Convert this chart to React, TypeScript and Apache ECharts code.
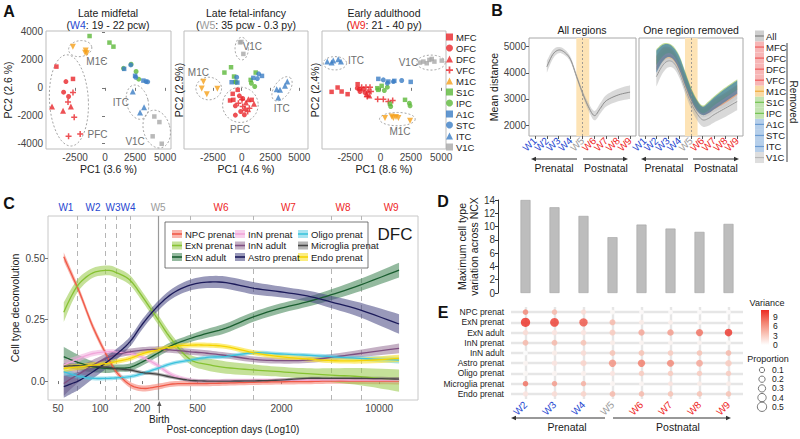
import React, { useEffect, useRef } from 'react';
import * as echarts from 'echarts';

const FONT = "'Liberation Sans', Arial, Helvetica, sans-serif";
const INK = '#1a1a1a';
const TICK_TXT = '#444444';
const W_BLUE = '#2747d0';
const W_GRAY = '#9b9b9b';
const W_RED = '#ee1f1f';

// ---------------- Panel A : PCA scatter ----------------
const REGIONS = ['MFC', 'OFC', 'DFC', 'VFC', 'M1C', 'S1C', 'IPC', 'A1C', 'STC', 'ITC', 'V1C'];
const REGION_COLORS = ['#e8262a', '#e8262a', '#e8262a', '#e8262a', '#f5a01a', '#5cb83a', '#5cb83a', '#3b7dc4', '#3b7dc4', '#3b7dc4', '#a8a8a8'];
const PLUS = 'path://M3,0H5V3H8V5H5V8H3V5H0V3H3Z';
const REGION_SYMBOLS = ['rect', 'circle', 'triangle', PLUS, 'triangle', 'rect', 'circle', 'rect', 'circle', 'triangle', 'rect'];
const REGION_ROTATE = [0, 0, 0, 0, 180, 0, 0, 0, 0, 0, 0];
const REGION_SIZE = [4.5, 5, 6, 6, 6, 4.5, 5, 4.5, 5, 6, 4.5];

const A_W4 = {
  MFC: [[-4045, 1520], [-2665, 640]],
  OFC: [[-3254, 450], [-3447, -310], [-3033, -620]],
  DFC: [[-3493, -1640], [-4413, -1330], [-2840, -1330]],
  VFC: [[-2665, -330], [-3079, -1020], [-2564, -2100], [-2067, -3310], [-3033, -3470]],
  M1C: [[-2674, 2950], [-1653, 2520], [-1515, 2480], [-1607, 2670]],
  S1C: [[-1285, 3710], [371, 3240], [702, 2950]],
  IPC: [[1539, 1400], [2588, 1170], [2174, 1690], [2809, 620]],
  A1C: [[1595, 1360], [2505, 860], [3195, 520]],
  STC: [[2147, 1640], [2561, 760], [3416, 450], [3554, 430]],
  ITC: [[2312, -260], [3251, -1380], [2919, -1760]],
  V1C: [[4106, -2050], [4529, -2450], [3968, -3470], [4723, -4000]],
};
const A_W5 = {
  MFC: [[-347, -143], [-780, -428], [-1012, -904], [-723, -857], [867, -857]],
  OFC: [[-202, -571], [87, -762], [-549, -1285], [-87, -1690], [231, -1928], [-549, -1952]],
  DFC: [[376, -1047], [578, -809], [289, -1452], [1069, -1142]],
  VFC: [[665, -1452], [520, -1690], [29, -857], [-289, -1095], [87, -1333]],
  M1C: [[-3320, 430], [-3470, -50], [-3030, -450], [-2110, -70]],
  S1C: [[-925, 1475], [-1500, 1095], [780, 570], [1215, 1095], [-665, 810]],
  IPC: [[-580, 430], [-490, 405], [840, 330], [1130, 95]],
  A1C: [[-870, 405], [-375, 380], [1010, 715], [1760, 855]],
  STC: [[-435, 760], [1360, 665], [1475, 1000]],
  ITC: [[3038, -93], [3324, -143], [3758, 143], [3960, 450], [3180, -693]],
  V1C: [[-145, 3260], [-30, 3285], [145, 2430]],
};
const A_W9 = {
  MFC: [[-4029, -286], [-3534, 24], [-3204, -262], [-2709, -452], [-1884, 262]],
  OFC: [[-1746, -95], [-1691, -262], [-1416, -95], [-1279, -333], [-1911, -24]],
  DFC: [[-1141, -452], [-1004, -190], [-921, -547]],
  VFC: [[-784, -262], [-234, -809], [234, -809], [646, -976], [1004, -904], [-1554, 48], [-1196, 48], [-1086, -619], [-866, 48]],
  M1C: [[371, -2166], [921, -2047], [1059, -2166], [1279, -2094], [1471, -2166], [2434, -2356]],
  S1C: [[-261, -24], [-179, -143], [96, 143], [784, -1142], [2021, -857]],
  IPC: [[316, -190], [564, 48], [839, -1333], [2379, -1095], [2434, -1285]],
  A1C: [[-179, 643], [646, 452], [1141, 500], [2489, 428]],
  STC: [[234, 571], [1059, 452], [1746, 524], [564, 333]],
  ITC: [[-4386, 1880], [-4029, 1809], [-3891, 1952], [-3479, 2047], [-3259, 1880]],
  V1C: [[3259, 1809], [3534, 1880], [4029, 2000], [4221, 2070], [4441, 1880], [5046, 1952], [3809, 1761]],
};
const A_RINGS_W4 = [
  { label: 'PFC', c: [-3005, -900], r: [1619, 3270], rot: -3, at: [-625, -3310] },
  { label: 'M1C', c: [-2065, 2808], r: [971, 571], rot: -8, at: [-678, 1880] },
  { label: 'ITC', c: [2699, -1023], r: [897, 1250], rot: -14, at: [1316, -1047] },
  { label: 'V1C', c: [4304, -2950], r: [1104, 1378], rot: -15, at: [2505, -3830] },
];
const A_RINGS_W5 = [
  { label: 'V1C', c: [0, 2808], r: [578, 809], rot: 0, at: [925, 2950] },
  { label: 'M1C', c: [-2860, -48], r: [1112, 809], rot: 0, at: [-3760, 1095] },
  { label: 'PFC', c: [-116, -1214], r: [1546, 1262], rot: 0, at: [-145, -2950] },
  { label: 'ITC', c: [3500, -70], r: [1200, 550], rot: -55, at: [3470, -1450] },
];
const A_RINGS_W9 = [
  { label: 'ITC', c: [-3754, 1761], r: [962, 476], rot: 0, at: [-2021, 1928] },
  { label: 'V1C', c: [4166, 1809], r: [1169, 536], rot: 0, at: [2296, 1809] },
  { label: 'M1C', c: [1389, -2237], r: [1471, 476], rot: 0, at: [1609, -3118] },
];
const A_X_RANGES = [[-4912, 5494], [-5008, 5755], [-4820, 5397]];
const A_Y_RANGE = [-4377, 4070];
const A_X_TICKS = [-2500, 0, 2500, 5000];
const A_Y_TICKS = [-4000, -2000, 0, 2000, 4000];
const A_X_NAMES = ['PC1 (3.6 %)', 'PC1 (4.6 %)', 'PC1 (8.6 %)'];
const A_Y_NAMES = ['PC2 (2.6 %)', 'PC2 (2.9%)', 'PC2 (2.4%)'];

// ---------------- Panel B : mean distance ----------------
const B_WINDOWS = ['W1', 'W2', 'W3', 'W4', 'W5', 'W6', 'W7', 'W8', 'W9'];
const B_X = [2, 2.5, 3, 3.5, 4, 4.5, 5, 5.5, 6, 6.5, 7, 8, 9];
const B_ALL_MEAN = [4230, 4700, 4870, 4780, 4500, 3860, 3230, 2700, 2360, 2640, 2930, 3150, 3260];
const B_ALL_HW = [230, 170, 120, 110, 100, 100, 110, 150, 180, 200, 220, 240, 260];
const B_ALL2_MEAN = [3850, 4250, 4450, 4380, 4000, 3400, 2850, 2450, 2200, 2250, 2400, 2650, 2900];
const B_ALL2_HW = [380, 300, 250, 220, 200, 200, 220, 250, 260, 280, 300, 330, 330];
const B_V1C_LO = [3900, 4250, 4450, 4350, 3950, 3400, 2850, 2500, 2300, 2350, 2500, 2700, 3000];
const B_V1C_HI = [4500, 4800, 4900, 4750, 4350, 3800, 3250, 2850, 2600, 2700, 2850, 3100, 3400];
const B_RED_LO = [4100, 4450, 4600, 4500, 4100, 3500, 2950, 2600, 2400, 2450, 2600, 2850, 3150];
const B_RED_HI = [4650, 4950, 5000, 4850, 4450, 3900, 3350, 2950, 2700, 2800, 3000, 3250, 3550];
const B_M1C_LO = [4050, 4400, 4550, 4450, 4050, 3450, 2900, 2550, 2380, 2450, 2600, 2850, 3150];
const B_M1C_HI = [4600, 4900, 4950, 4800, 4400, 3850, 3300, 2900, 2650, 2750, 2950, 3200, 3500];
const B_GREEN_LO = [4300, 4600, 4750, 4650, 4250, 3600, 3050, 2650, 2450, 2550, 2750, 3050, 3350];
const B_GREEN_HI = [4900, 5100, 5130, 5000, 4650, 4050, 3450, 3000, 2750, 2900, 3100, 3450, 3750];
const B_BLUE_LO = [4000, 4400, 4600, 4500, 4100, 3500, 2950, 2550, 2380, 2450, 2600, 2900, 3200];
const B_BLUE_HI = [4850, 5050, 5100, 4950, 4600, 4000, 3400, 2950, 2700, 2850, 3050, 3400, 3700];
const B_BIRTH_BAND = [4.48, 5.57];
const B_Y_TICKS = [2000, 3000, 4000, 5000];
const B_LEGEND = ['All', 'MFC', 'OFC', 'DFC', 'VFC', 'M1C', 'S1C', 'IPC', 'A1C', 'STC', 'ITC', 'V1C'];
const B_LEGEND_FILL = ['#cfcfcf', '#f7b6b6', '#f7b6b6', '#f7b6b6', '#f7b6b6', '#f9dba6', '#c3e4b2', '#c3e4b2', '#b6cfea', '#b6cfea', '#b6cfea', '#dedede'];
const B_LEGEND_LINE = ['#7f7f7f', '#ef5b5b', '#ef5b5b', '#ef5b5b', '#ef5b5b', '#f1a93a', '#72c250', '#72c250', '#6a9bd2', '#6a9bd2', '#6a9bd2', '#b8b8b8'];

// ---------------- Panel C : deconvolution ----------------
const C_DAYS = [55, 63, 72, 89, 113, 132, 164, 203, 257, 330, 442, 585, 800, 1270, 1950, 3050, 4500, 7300, 13900];
const C_NPC = [0.505, 0.43, 0.355, 0.22, 0.099, 0.035, -0.015, -0.03, -0.023, -0.012, -0.01, -0.01, -0.008, -0.005, -0.003, -0.002, 0, 0, 0];
const C_EXN_P = [0.28, 0.35, 0.4, 0.44, 0.45, 0.44, 0.41, 0.34, 0.255, 0.165, 0.088, 0.068, 0.055, 0.045, 0.038, 0.03, 0.024, 0.018, 0.002];
const C_EXN_A = [0.099, 0.085, 0.073, 0.058, 0.051, 0.052, 0.056, 0.079, 0.112, 0.146, 0.173, 0.194, 0.215, 0.262, 0.295, 0.322, 0.35, 0.39, 0.451];
const C_INN_P = [0.065, 0.08, 0.094, 0.112, 0.119, 0.118, 0.112, 0.096, 0.065, 0.024, 0.004, 0.001, 0.002, 0.003, 0.004, 0.005, 0.005, 0.004, 0.004];
const C_INN_A = [-0.01, 0.012, 0.031, 0.065, 0.095, 0.108, 0.119, 0.126, 0.129, 0.126, 0.119, 0.113, 0.104, 0.088, 0.083, 0.085, 0.096, 0.112, 0.133];
const C_ASTRO = [-0.023, -0.01, 0.004, 0.038, 0.079, 0.11, 0.16, 0.234, 0.302, 0.356, 0.39, 0.402, 0.4, 0.377, 0.363, 0.346, 0.322, 0.289, 0.232];
const C_OLIGO = [0.038, 0.027, 0.018, 0.011, 0.011, 0.013, 0.018, 0.031, 0.051, 0.072, 0.085, 0.096, 0.1, 0.115, 0.11, 0.105, 0.099, 0.092, 0.085];
const C_MICRO = [0.06, 0.062, 0.062, 0.06, 0.056, 0.05, 0.045, 0.034, 0.028, 0.015, 0.003, 0, 0, 0.001, 0.004, 0.011, 0.011, 0.011, 0.008];
const C_ENDO = [0.051, 0.055, 0.058, 0.065, 0.072, 0.08, 0.092, 0.112, 0.126, 0.14, 0.146, 0.146, 0.14, 0.115, 0.099, 0.09, 0.083, 0.083, 0.092];
const C_NPC_HW = [0.018, 0.016, 0.015, 0.014, 0.013, 0.012, 0.012, 0.012, 0.012, 0.011, 0.011, 0.011, 0.011, 0.011, 0.011, 0.011, 0.011, 0.012, 0.014];
const C_EXN_P_HW = [0.04, 0.03, 0.025, 0.02, 0.02, 0.02, 0.02, 0.02, 0.02, 0.02, 0.02, 0.025, 0.025, 0.022, 0.02, 0.022, 0.028, 0.035, 0.045];
const C_EXN_A_HW = [0.04, 0.035, 0.03, 0.022, 0.018, 0.015, 0.015, 0.015, 0.015, 0.015, 0.015, 0.018, 0.02, 0.02, 0.02, 0.02, 0.022, 0.025, 0.03];
const C_INN_P_HW = [0.02, 0.016, 0.013, 0.011, 0.01, 0.01, 0.01, 0.01, 0.01, 0.01, 0.008, 0.007, 0.007, 0.007, 0.007, 0.007, 0.007, 0.008, 0.01];
const C_INN_A_HW = [0.05, 0.04, 0.03, 0.022, 0.018, 0.015, 0.013, 0.012, 0.012, 0.012, 0.012, 0.012, 0.012, 0.012, 0.012, 0.012, 0.013, 0.015, 0.02];
const C_ASTRO_HW = [0.045, 0.04, 0.035, 0.028, 0.025, 0.022, 0.02, 0.02, 0.02, 0.02, 0.022, 0.024, 0.025, 0.025, 0.022, 0.022, 0.025, 0.03, 0.04];
const C_OLIGO_HW = [0.015, 0.012, 0.01, 0.008, 0.008, 0.008, 0.008, 0.008, 0.008, 0.008, 0.008, 0.008, 0.008, 0.008, 0.008, 0.008, 0.009, 0.01, 0.014];
const C_MICRO_HW = [0.012, 0.01, 0.009, 0.008, 0.007, 0.007, 0.007, 0.007, 0.007, 0.007, 0.006, 0.006, 0.006, 0.006, 0.006, 0.006, 0.006, 0.007, 0.008];
const C_ENDO_HW = [0.015, 0.013, 0.012, 0.011, 0.01, 0.01, 0.01, 0.01, 0.01, 0.01, 0.01, 0.01, 0.01, 0.01, 0.01, 0.01, 0.01, 0.012, 0.015];
const C_NAMES = ['NPC prenat', 'ExN prenat', 'ExN adult', 'InN prenat', 'InN adult', 'Astro prenat', 'Oligo prenat', 'Microglia prenat', 'Endo prenat'];
const C_MEANS = [C_NPC, C_EXN_P, C_EXN_A, C_INN_P, C_INN_A, C_ASTRO, C_OLIGO, C_MICRO, C_ENDO];
const C_HWS = [C_NPC_HW, C_EXN_P_HW, C_EXN_A_HW, C_INN_P_HW, C_INN_A_HW, C_ASTRO_HW, C_OLIGO_HW, C_MICRO_HW, C_ENDO_HW];
const C_LINE_COLORS = ['#f05a48', '#86c232', '#1a5e30', '#f2a6da', '#7e4f80', '#1b1a5a', '#3cc3dd', '#444444', '#f5d400'];
const C_FILL_COLORS = ['rgba(244,120,105,0.55)', 'rgba(150,200,70,0.55)', 'rgba(60,130,80,0.55)', 'rgba(240,170,220,0.55)', 'rgba(140,100,140,0.5)', 'rgba(70,70,130,0.55)', 'rgba(80,200,225,0.5)', 'rgba(90,90,90,0.45)', 'rgba(250,225,40,0.6)'];
const C_WINDOW_DAYS = [57, 89, 124, 159, 261, 737, 2240, 5520, 12200];
const C_BOUNDS = [69.5, 110, 132, 167, 442, 1270, 4530, 7430];
const BIRTH_DAY = 266;
const C_X_TICKS = [50, 100, 200, 500, 2000, 10000];
const C_Y_TICKS = [0, 0.25, 0.5];

// ---------------- Panel D : bars ----------------
const D_WINDOWS = ['W2', 'W3', 'W4', 'W5', 'W6', 'W7', 'W8', 'W9'];
const D_VALUES = [14.0, 12.9, 11.6, 8.4, 10.3, 9.7, 9.2, 10.4];

// ---------------- Panel E : dot plot ----------------
const E_CELLS = ['NPC prenat', 'ExN prenat', 'ExN adult', 'InN prenat', 'InN adult', 'Astro prenat', 'Oligo prenat', 'Microglia prenat', 'Endo prenat'];
const E_VARIANCE = [
  [6.5, 4, 2, 0.3, 0.2, 0.1, 0.1, 0.1],
  [10, 9.5, 8.5, 4, 1, 0.8, 0.5, 0.5],
  [2, 1.5, 1.5, 3, 5, 5.5, 7.5, 9.8],
  [4, 4, 3.5, 1, 0.5, 0.5, 0.5, 0.3],
  [0, 1, 2, 3.5, 3.5, 3, 3.5, 4],
  [0.5, 1.5, 2.5, 6, 7, 6.5, 5, 3],
  [0.3, 0.5, 0.8, 1.5, 3, 3, 3, 3],
  [7.5, 5.5, 4.5, 0.5, 0.5, 1.5, 1, 1],
  [1.5, 2, 2.5, 4, 4, 3.5, 3.5, 3.5],
];
const E_PROPORTION = [
  [0.13, 0.12, 0.1, 0.05, 0.05, 0.04, 0.04, 0.04],
  [0.5, 0.45, 0.4, 0.17, 0.08, 0.06, 0.05, 0.05],
  [0.12, 0.12, 0.12, 0.17, 0.2, 0.22, 0.28, 0.33],
  [0.15, 0.15, 0.15, 0.08, 0.05, 0.05, 0.05, 0.05],
  [0.05, 0.1, 0.12, 0.15, 0.15, 0.13, 0.13, 0.14],
  [0.08, 0.12, 0.18, 0.3, 0.3, 0.28, 0.25, 0.22],
  [0.08, 0.08, 0.08, 0.1, 0.12, 0.12, 0.12, 0.12],
  [0.12, 0.11, 0.1, 0.08, 0.06, 0.07, 0.07, 0.06],
  [0.1, 0.12, 0.13, 0.15, 0.12, 0.12, 0.12, 0.12],
];
const E_VAR_COLORS = ['#ffffff', '#f9c3b6', '#f3826f', '#ec2c22'];
const E_VAR_TICKS = [9, 6, 3, 0];
const E_PROP_TICKS = [0.1, 0.2, 0.3, 0.4, 0.5];

// ---------------- helpers ----------------
const wKey = (n: number) => (n <= 4 ? 'b' : n === 5 ? 'g' : 'r');
const wRich = (size: number) => ({
  b: { color: W_BLUE, fontSize: size, fontFamily: FONT },
  g: { color: W_GRAY, fontSize: size, fontFamily: FONT },
  r: { color: W_RED, fontSize: size, fontFamily: FONT },
});
const wFmt = (v: string) => `{${wKey(parseInt(String(v).slice(1), 10))}|${v}}`;
const dotSize = (p: number) => 4.3 + 10 * p;

function spline(p: number[][], steps = 6) {
  if (p.length < 3) return p;
  const out: number[][] = [];
  for (let i = 0; i < p.length - 1; i++) {
    const p0 = p[i - 1] || p[i], p1 = p[i], p2 = p[i + 1], p3 = p[i + 2] || p[i + 1];
    for (let s = 0; s < steps; s++) {
      const t = s / steps, t2 = t * t, t3 = t2 * t;
      const f = (a: number, b: number, c: number, d: number) =>
        0.5 * (2 * b + (-a + c) * t + (2 * a - 5 * b + 4 * c - d) * t2 + (-a + 3 * b - 3 * c + d) * t3);
      out.push([f(p0[0], p1[0], p2[0], p3[0]), f(p0[1], p1[1], p2[1], p3[1])]);
    }
  }
  out.push(p[p.length - 1]);
  return out;
}

function band(xs: number[], lo: number[], hi: number[], fill: string, xi: number, yi: number, z: number) {
  return {
    type: 'custom', xAxisIndex: xi, yAxisIndex: yi, z, silent: true, clip: true,
    data: xs.map((x, i) => [x, lo[i], hi[i]]),
    encode: { x: 0, y: [1, 2] },
    renderItem: (params: any, api: any) => {
      if (params.dataIndex !== 0) return null;
      const top = spline(xs.map((x, i) => api.coord([x, hi[i]])));
      const bot = spline(xs.map((x, i) => api.coord([x, lo[i]]))).reverse();
      return { type: 'polygon', shape: { points: top.concat(bot) }, style: { fill, stroke: 'none' } };
    },
  };
}

function curve(xs: number[], ys: number[], stroke: string, width: number, xi: number, yi: number, z: number) {
  return {
    type: 'custom', xAxisIndex: xi, yAxisIndex: yi, z, silent: true, clip: true,
    data: xs.map((x, i) => [x, ys[i]]),
    encode: { x: 0, y: 1 },
    renderItem: (params: any, api: any) => {
      if (params.dataIndex !== 0) return null;
      const pts = spline(xs.map((x, i) => api.coord([x, ys[i]])));
      return { type: 'polyline', shape: { points: pts }, style: { stroke, lineWidth: width, fill: 'none' } };
    },
  };
}

function rings(list: any[], idx: number) {
  return {
    type: 'custom', xAxisIndex: idx, yAxisIndex: idx, z: 1, silent: true,
    data: list.map((e) => [e.c[0], e.c[1]]),
    renderItem: (params: any, api: any) => {
      const e = list[params.dataIndex];
      const c = api.coord(e.c);
      const s = api.size(e.r);
      const a = (e.rot * Math.PI) / 180;
      const pts: number[][] = [];
      for (let k = 0; k < 60; k++) {
        const t = (k / 60) * Math.PI * 2;
        const ex = s[0] * Math.cos(t), ey = s[1] * Math.sin(t);
        pts.push([c[0] + ex * Math.cos(a) - ey * Math.sin(a), c[1] + ex * Math.sin(a) + ey * Math.cos(a)]);
      }
      const lp = api.coord(e.at);
      return {
        type: 'group',
        children: [
          { type: 'polygon', shape: { points: pts }, style: { fill: 'none', stroke: '#a3a3a3', lineWidth: 1, lineDash: [2, 2] } },
          { type: 'text', x: lp[0], y: lp[1], style: { text: e.label, fill: '#6e6e6e', fontSize: 10, fontFamily: FONT, align: 'center', verticalAlign: 'middle' } },
        ],
      };
    },
  };
}

const T = (x: number, y: number, text: string, o: any = {}) => ({
  type: 'text', x, y, silent: true, z: o.z || 110, rotation: o.rot || 0,
  style: {
    text, fill: o.color || INK, fontSize: o.size || 10, fontFamily: FONT, fontWeight: o.weight || 'normal',
    align: o.align || 'center', verticalAlign: o.va || 'middle',
    textAlign: o.align || 'center', textVerticalAlign: o.va || 'middle', rich: o.rich,
  },
});
const L = (x1: number, y1: number, x2: number, y2: number, color = '#333', w = 1, z = 100) => ({
  type: 'line', silent: true, z, shape: { x1, y1, x2, y2 }, style: { stroke: color, lineWidth: w },
});
const arrow = (x1: number, x2: number, y: number) => {
  const d = Math.sign(x2 - x1);
  return [
    L(x1, y, x2 - d * 3, y, '#333', 1),
    { type: 'polygon', silent: true, z: 100, shape: { points: [[x2, y], [x2 - d * 5, y - 2.2], [x2 - d * 5, y + 2.2]] }, style: { fill: '#333' } },
  ];
};

function buildOption() {
  const grids: any[] = [
    { left: 46, top: 31, width: 125, height: 118 },
    { left: 184, top: 31, width: 124, height: 118 },
    { left: 322, top: 31, width: 124, height: 118 },
    { left: 529, top: 38, width: 107, height: 98 },
    { left: 639, top: 38, width: 104, height: 98 },
    { left: 48, top: 216, width: 370, height: 184 },
    { left: 511, top: 200, width: 232, height: 93 },
    { left: 511, top: 307, width: 232, height: 92 },
  ].map((g, i) => ({
    ...g, outerBoundsMode: 'none', containLabel: false,
    show: i <= 5, borderColor: i <= 2 ? '#bdbdbd' : i <= 4 ? '#a8a8a8' : '#c8c8c8', borderWidth: 1, backgroundColor: 'transparent',
  }));

  const lab = (extra: any = {}) => ({ fontFamily: FONT, fontSize: 10, color: TICK_TXT, hideOverlap: false, showMinLabel: true, showMaxLabel: true, ...extra });
  const nameStyle = { fontFamily: FONT, fontSize: 10.5, color: INK };
  const xAxis: any[] = [];
  const yAxis: any[] = [];

  for (let i = 0; i < 3; i++) {
    xAxis.push({
      type: 'value', gridIndex: i, min: A_X_RANGES[i][0], max: A_X_RANGES[i][1],
      name: A_X_NAMES[i], nameLocation: 'middle', nameGap: 14, nameTextStyle: nameStyle,
      axisLine: { show: false }, splitLine: { show: false },
      axisTick: { show: true, length: 3, lineStyle: { color: '#777' }, customValues: A_X_TICKS },
      axisLabel: lab({ margin: 3, customValues: A_X_TICKS, formatter: (v: number) => String(v) }),
    });
    yAxis.push({
      type: 'value', gridIndex: i, min: A_Y_RANGE[0], max: A_Y_RANGE[1],
      name: A_Y_NAMES[i], nameLocation: 'middle', nameGap: i === 0 ? 25 : i === 1 ? 0 : 1.5, nameTextStyle: nameStyle,
      axisLine: { show: false }, splitLine: { show: false },
      axisTick: { show: i === 0, length: 3, lineStyle: { color: '#777' }, customValues: A_Y_TICKS },
      axisLabel: lab({ show: i === 0, margin: 3, customValues: A_Y_TICKS, formatter: (v: number) => String(v) }),
    });
  }
  // B value axes (x 3,4 ; y 3,4) - window n sits at value n
  for (let i = 0; i < 2; i++) {
    xAxis.push({
      type: 'value', gridIndex: 3 + i, min: 0.5, max: 9.5, position: 'top', show: false,
    });
    yAxis.push({
      type: 'value', gridIndex: 3 + i, min: 1580, max: 5330,
      name: i === 0 ? 'Mean distance' : '', nameLocation: 'middle', nameGap: 25, nameTextStyle: nameStyle,
      axisLine: { show: false }, splitLine: { show: false },
      axisTick: { show: i === 0, length: 3, lineStyle: { color: '#555' }, customValues: B_Y_TICKS },
      axisLabel: lab({ show: i === 0, margin: 3, customValues: B_Y_TICKS, formatter: (v: number) => String(v) }),
    });
  }
  // C  (xAxis 5 bottom, xAxis 6 top ; yAxis 5)
  const cMin = Math.log10(42.4), cMax = Math.log10(19000);
  xAxis.push({
    type: 'value', gridIndex: 5, min: cMin, max: cMax,
    name: 'Post-conception days (Log10)', nameLocation: 'middle', nameGap: 24, nameTextStyle: { ...nameStyle, fontSize: 10 },
    axisLine: { show: false }, splitLine: { show: false },
    axisTick: { show: true, length: 3, lineStyle: { color: '#777' }, customValues: C_X_TICKS.map(Math.log10) },
    axisLabel: lab({ margin: 3, customValues: C_X_TICKS.map(Math.log10), formatter: (v: number) => String(Math.round(Math.pow(10, v))) }),
  });
  xAxis.push({
    type: 'value', gridIndex: 5, min: cMin, max: cMax, position: 'top',
    axisLine: { show: false }, axisTick: { show: false }, splitLine: { show: false },
    axisLabel: {
      customValues: C_WINDOW_DAYS.map(Math.log10), margin: 4, fontSize: 10, fontFamily: FONT,
      hideOverlap: false, showMinLabel: true, showMaxLabel: true,
      formatter: (v: number) => {
        let best = 0;
        C_WINDOW_DAYS.forEach((d, i) => { if (Math.abs(Math.log10(d) - v) < Math.abs(Math.log10(C_WINDOW_DAYS[best]) - v)) best = i; });
        return `{${wKey(best + 1)}|W${best + 1}}`;
      },
      rich: wRich(10),
    },
  });
  yAxis.push({
    type: 'value', gridIndex: 5, min: -0.077, max: 0.671,
    name: 'Cell type deconvolution', nameLocation: 'middle', nameGap: 28, nameTextStyle: nameStyle,
    axisLine: { show: false }, splitLine: { show: false },
    axisTick: { show: true, length: 3, lineStyle: { color: '#777' }, customValues: C_Y_TICKS },
    axisLabel: lab({ margin: 3, customValues: C_Y_TICKS, formatter: (v: number) => (v === 0 ? '0.0' : v.toFixed(2)) }),
  });
  // D  (xAxis 7, yAxis 6)
  xAxis.push({ type: 'category', gridIndex: 6, data: D_WINDOWS, show: false });
  yAxis.push({
    type: 'value', gridIndex: 6, min: 0, max: 14, interval: 2, offset: 13,
    name: 'Maximum cell type\nvariation across NCX', nameLocation: 'middle', nameGap: 13,
    nameTextStyle: { ...nameStyle, fontSize: 10.5, lineHeight: 12 },
    axisLine: { show: true, lineStyle: { color: '#333', width: 1 } }, splitLine: { show: false },
    axisTick: { show: true, length: 3, lineStyle: { color: '#333' } },
    axisLabel: lab({ margin: 3, color: '#333' }),
  });
  // E  (xAxis 8, yAxis 7)
  xAxis.push({
    type: 'category', gridIndex: 7, data: D_WINDOWS, boundaryGap: true,
    axisLine: { show: false }, axisTick: { show: false }, splitLine: { show: false },
    axisLabel: { rotate: 45, margin: 4, fontSize: 10, fontFamily: FONT, interval: 0, hideOverlap: false, formatter: wFmt, rich: wRich(10) },
  });
  yAxis.push({
    type: 'category', gridIndex: 7, data: E_CELLS, inverse: true, boundaryGap: true,
    axisLine: { show: false }, axisTick: { show: false }, splitLine: { show: false },
    axisLabel: { fontFamily: FONT, fontSize: 8.5, color: '#222', margin: 7, interval: 0, hideOverlap: false },
  });
  // B window label axes (xAxis 9, 10): categories centred on values 1..9 of the value axes
  for (let i = 0; i < 2; i++) {
    xAxis.push({
      type: 'category', gridIndex: 3 + i, data: B_WINDOWS, boundaryGap: true, position: 'bottom',
      axisLine: { show: false }, splitLine: { show: false },
      axisTick: { show: true, alignWithLabel: true, interval: 0, length: 3, lineStyle: { color: '#555' } },
      axisLabel: { rotate: 45, margin: 3, fontSize: 10, fontFamily: FONT, interval: 0, hideOverlap: false, formatter: wFmt, rich: wRich(10) },
    });
  }

  const series: any[] = [];
  // A scatter
  [A_W4, A_W5, A_W9].forEach((plot: any, p) => {
    REGIONS.forEach((r, k) => {
      series.push({
        type: 'scatter', name: r, xAxisIndex: p, yAxisIndex: p, z: 3,
        symbol: REGION_SYMBOLS[k], symbolRotate: REGION_ROTATE[k], symbolSize: REGION_SIZE[k],
        itemStyle: { color: REGION_COLORS[k] }, data: plot[r],
      });
    });
  });
  series.push(rings(A_RINGS_W4, 0), rings(A_RINGS_W5, 1), rings(A_RINGS_W9, 2));

  // B markers
  for (let i = 0; i < 2; i++) {
    series.push({
      type: 'line', xAxisIndex: 3 + i, yAxisIndex: 3 + i, z: 1, silent: true, showSymbol: false,
      data: [[5, 3000]], lineStyle: { opacity: 0 },
      markArea: { silent: true, z: 1, itemStyle: { color: '#fde3b5' }, data: [[{ xAxis: B_BIRTH_BAND[0] }, { xAxis: B_BIRTH_BAND[1] }]] },
      markLine: { silent: true, symbol: 'none', label: { show: false }, lineStyle: { type: [2, 2], color: '#8a8a8a', width: 0.8 }, data: [{ xAxis: 5 }] },
    });
  }
  series.push(band(B_X, B_ALL_MEAN.map((m, i) => m - B_ALL_HW[i]), B_ALL_MEAN.map((m, i) => m + B_ALL_HW[i]), 'rgba(170,170,170,0.45)', 3, 3, 2));
  series.push(curve(B_X, B_ALL_MEAN, '#8c8c8c', 1, 3, 3, 3));
  series.push(band(B_X, B_ALL2_MEAN.map((m, i) => m - B_ALL2_HW[i]), B_ALL2_MEAN.map((m, i) => m + B_ALL2_HW[i]), 'rgba(170,170,170,0.45)', 4, 4, 2));
  series.push(curve(B_X, B_ALL2_MEAN, '#999999', 1, 4, 4, 3));
  series.push(band(B_X, B_V1C_LO, B_V1C_HI, 'rgba(190,190,190,0.45)', 4, 4, 3));
  series.push(band(B_X, B_RED_LO, B_RED_HI, 'rgba(232,110,120,0.45)', 4, 4, 3));
  series.push(band(B_X, B_M1C_LO, B_M1C_HI, 'rgba(240,170,80,0.4)', 4, 4, 3));
  series.push(band(B_X, B_GREEN_LO, B_GREEN_HI, 'rgba(140,190,60,0.55)', 4, 4, 3));
  series.push(band(B_X, B_BLUE_LO, B_BLUE_HI, 'rgba(45,115,175,0.62)', 4, 4, 3));

  // C
  const cx = C_DAYS.map(Math.log10);
  series.push({
    type: 'line', xAxisIndex: 5, yAxisIndex: 5, z: 1, silent: true, showSymbol: false,
    data: [[cx[0], 0]], lineStyle: { opacity: 0 },
    markLine: {
      silent: true, symbol: 'none', label: { show: false }, z: 1,
      lineStyle: { type: [5, 4], color: '#b5b5b5', width: 1 },
      data: [
        ...C_BOUNDS.map((d) => ({ xAxis: Math.log10(d) })),
        { xAxis: Math.log10(BIRTH_DAY), lineStyle: { type: 'solid', color: '#9a9a9a', width: 1.2 } },
      ],
    },
  });
  C_MEANS.forEach((m, k) => {
    series.push(band(cx, m.map((v, i) => v - C_HWS[k][i]), m.map((v, i) => v + C_HWS[k][i]), C_FILL_COLORS[k], 5, 5, 2));
  });
  C_MEANS.forEach((m, k) => {
    series.push(curve(cx, m, C_LINE_COLORS[k], 1.3, 5, 5, 3));
  });

  // D
  series.push({
    type: 'bar', xAxisIndex: 7, yAxisIndex: 6, data: D_VALUES, barWidth: 10,
    itemStyle: { color: '#bdbdbd', borderColor: '#a3a3a3', borderWidth: 0.6 },
  });

  // E
  series.push({
    type: 'scatter', xAxisIndex: 8, yAxisIndex: 7, z: 1, silent: true, symbolSize: 0,
    data: [[D_WINDOWS[0], E_CELLS[0]]],
    markLine: {
      silent: true, symbol: 'none', label: { show: false }, z: 1,
      lineStyle: { type: 'solid', color: '#e6e6e6', width: 2.4 },
      data: [...E_CELLS.map((_, i) => ({ yAxis: i })), ...D_WINDOWS.map((_, i) => ({ xAxis: i }))],
    },
  });
  const eData: any[] = [];
  E_CELLS.forEach((cell, r) => D_WINDOWS.forEach((w, c) => eData.push([w, cell, E_VARIANCE[r][c], E_PROPORTION[r][c]])));
  const eIdx = series.length;
  series.push({
    type: 'scatter', xAxisIndex: 8, yAxisIndex: 7, z: 6, clip: false,
    symbolSize: (v: any) => dotSize(v[3]), data: eData, encode: { x: 0, y: 1 },
  });

  return {
    animation: false,
    backgroundColor: '#ffffff',
    textStyle: { fontFamily: FONT },
    grid: grids, xAxis, yAxis, series,
    legend: {
      data: REGIONS, orient: 'vertical', left: 446, top: 32, itemWidth: 7, itemHeight: 7, itemGap: 1,
      padding: 0, selectedMode: false, symbolRotate: 'inherit',
      textStyle: { fontFamily: FONT, fontSize: 9.5, color: '#222', lineHeight: 10, padding: [0, 0, 0, -2] },
    },
    visualMap: {
      show: false, type: 'continuous', min: 0, max: 10, dimension: 2, seriesIndex: eIdx,
      inRange: { color: E_VAR_COLORS },
    },
  };
}

function buildGraphics(birthX: number) {
  const g: any[] = [];
  g.push(T(9, 11, 'A', { size: 16, weight: 'bold', color: '#111' }));
  g.push(T(497, 10, 'B', { size: 16, weight: 'bold', color: '#111' }));
  g.push(T(9, 203, 'C', { size: 16, weight: 'bold', color: '#111' }));
  g.push(T(443, 201, 'D', { size: 16, weight: 'bold', color: '#111' }));
  g.push(T(443, 312, 'E', { size: 16, weight: 'bold', color: '#111' }));
  const sub = (key: string) => ({
    a: { fill: INK, color: INK, fontSize: 10.5, fontFamily: FONT },
    w: { fill: key, color: key, fontSize: 10.5, fontFamily: FONT },
  });
  g.push(T(108, 13, 'Late midfetal', { size: 10.5 }));
  g.push(T(108, 25, '{a|(}{w|W4}{a|: 19 - 22 pcw)}', { size: 10.5, rich: sub(W_BLUE) }));
  g.push(T(246, 13, 'Late fetal-infancy', { size: 10.5 }));
  g.push(T(246, 25, '{a|(}{w|W5}{a|: 35 pcw - 0.3 py)}', { size: 10.5, rich: sub(W_GRAY) }));
  g.push(T(384, 13, 'Early adulthood', { size: 10.5 }));
  g.push(T(384, 25, '{a|(}{w|W9}{a|: 21 - 40 py)}', { size: 10.5, rich: sub(W_RED) }));
  g.push(T(582, 30, 'All regions', { size: 10.5 }));
  g.push(T(691, 30, 'One region removed', { size: 10.5 }));
  g.push(...arrow(577, 531, 159), T(554, 168, 'Prenatal', { size: 10.5 }));
  g.push(...arrow(583, 628, 159), T(606, 168, 'Postnatal', { size: 10.5 }));
  g.push(...arrow(688, 641, 159), T(664, 168, 'Prenatal', { size: 10.5 }));
  g.push(...arrow(693, 739, 159), T(716, 168, 'Postnatal', { size: 10.5 }));
  // B legend
  B_LEGEND.forEach((name, i) => {
    const y = 36 + i * 11.05;
    g.push({ type: 'rect', silent: true, z: 90, shape: { x: 755, y: y - 5.5, width: 9, height: 11 }, style: { fill: B_LEGEND_FILL[i] } });
    g.push(L(755, y, 764, y, B_LEGEND_LINE[i], 1.2, 91));
    g.push(T(766, y, name, { size: 9.5, align: 'left', color: '#1a1a1a', z: 120 }));
  });
  g.push(L(787, 43, 787, 162, '#444', 1));
  g.push(T(793, 102, 'Removed', { size: 10, rot: -Math.PI / 2 }));
  // C legend
  g.push({ type: 'rect', silent: true, z: 99, shape: { x: 165, y: 222, width: 203, height: 46 }, style: { fill: '#ffffff', stroke: '#555', lineWidth: 0.8 } });
  const colX = [172, 235, 298];
  const rowY = [234, 245.5, 257];
  C_NAMES.forEach((name, k) => {
    const x = colX[Math.floor(k / 3)], y = rowY[k % 3];
    g.push({ type: 'rect', silent: true, z: 100, shape: { x, y: y - 4, width: 10, height: 8 }, style: { fill: C_FILL_COLORS[k] } });
    g.push(L(x, y, x + 10, y, C_LINE_COLORS[k], 1.6, 101));
    g.push(T(x + 13, y, name, { size: 9.5, align: 'left' }));
  });
  g.push(T(395, 234, 'DFC', { size: 17 }));
  g.push(L(birthX, 413, birthX, 404, '#555', 1));
  g.push({ type: 'polygon', silent: true, z: 100, shape: { points: [[birthX, 401], [birthX - 2.2, 406], [birthX + 2.2, 406]] }, style: { fill: '#555' } });
  g.push(T(birthX, 419, 'Birth', { size: 10 }));
  g.push(...arrow(605, 511, 418), T(567, 427, 'Prenatal', { size: 10.5 }));
  g.push(...arrow(613, 731, 418), T(678, 427, 'Postnatal', { size: 10.5 }));
  g.push(T(767, 303, 'Variance', { size: 9 }));
  g.push({
    type: 'rect', silent: true, z: 100, shape: { x: 761, y: 310, width: 8, height: 35 },
    style: {
      fill: new echarts.graphic.LinearGradient(0, 0, 0, 1, [
        { offset: 0, color: E_VAR_COLORS[3] }, { offset: 0.35, color: E_VAR_COLORS[2] },
        { offset: 0.68, color: E_VAR_COLORS[1] }, { offset: 1, color: E_VAR_COLORS[0] },
      ]),
    },
  });
  E_VAR_TICKS.forEach((v) => {
    const y = 345 - v * 3.1;
    g.push(T(773, y, String(v), { size: 8.5, align: 'left' }));
  });
  g.push(T(768, 359, 'Proportion', { size: 9 }));
  E_PROP_TICKS.forEach((p, i) => {
    const y = 370 + i * 9.2;
    g.push({ type: 'circle', silent: true, z: 100, shape: { cx: 762, cy: y, r: dotSize(p) / 2 }, style: { fill: '#fff', stroke: '#555', lineWidth: 0.8 } });
    g.push(T(772, y, String(p), { size: 8.5, align: 'left' }));
  });
  return g;
}

export default function App() {
  const ref = useRef<HTMLDivElement>(null);
  useEffect(() => {
    if (!ref.current) return;
    const chart = echarts.init(ref.current, null, { renderer: 'svg' });
    chart.setOption(buildOption() as any);
    let bx = chart.convertToPixel({ xAxisIndex: 5 } as any, Math.log10(BIRTH_DAY)) as any;
    if (typeof bx !== 'number' || isNaN(bx)) bx = 158;
    chart.setOption({ graphic: buildGraphics(bx) } as any);
    return () => chart.dispose();
  }, []);
  return <div ref={ref} style={{ position: 'absolute', left: 0, top: 0, width: 800, height: 439 }} />;
}
